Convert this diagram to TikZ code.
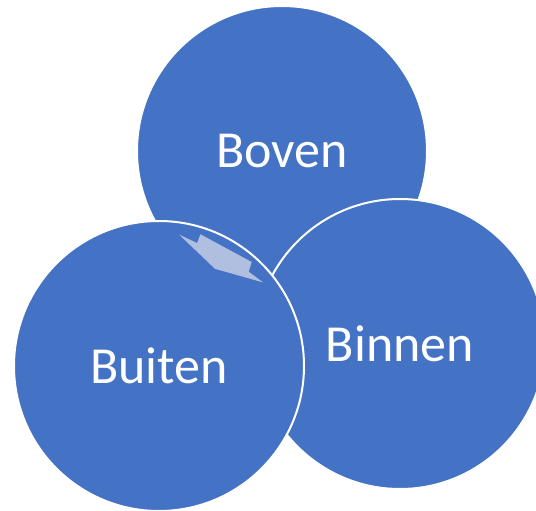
\documentclass[tikz,border=0pt]{standalone}
\usepackage{fontspec}
\setmainfont{Carlito}
\definecolor{cblue}{HTML}{4472C4}
\definecolor{clight}{HTML}{B0BEE0}
\begin{document}
\begin{tikzpicture}[x=1pt,y=-1pt,
  bubble/.style={circle, minimum size=290pt, inner sep=0pt, fill=cblue, draw=white, line width=2pt,
    text=white, font=\fontsize{52}{62}\selectfont}]
\useasboundingbox (0,0) rectangle (536,511);
\clip (0,0) rectangle (536,511);
\node[bubble] (boven) at (282,151) {Boven};
\node[bubble] (binnen) at (400,344) {Binnen};
\node[bubble] (buiten) at (159,366) {Buiten};
\fill[clight] (179,234.5) -- (197,243) -- (200.5,234.3) -- (251.7,262) -- (248.7,271.7)
  -- (263.3,282.5) -- (215,268.8) -- cycle;
\end{tikzpicture}
\end{document}
